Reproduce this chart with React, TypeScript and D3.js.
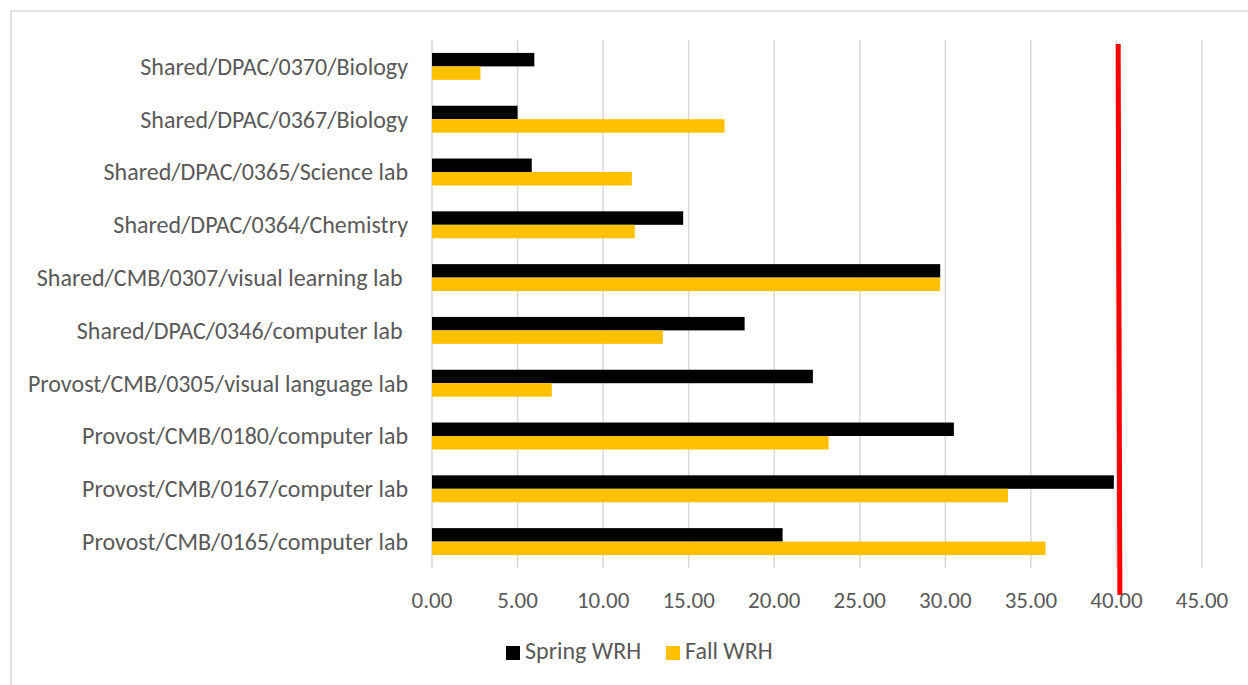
import React from "react";
import * as d3 from "d3";

const categories = [
  "Shared/DPAC/0370/Biology",
  "Shared/DPAC/0367/Biology",
  "Shared/DPAC/0365/Science lab",
  "Shared/DPAC/0364/Chemistry",
  "Shared/CMB/0307/visual learning lab ",
  "Shared/DPAC/0346/computer lab ",
  "Provost/CMB/0305/visual language lab",
  "Provost/CMB/0180/computer lab",
  "Provost/CMB/0167/computer lab",
  "Provost/CMB/0165/computer lab",
];
const springWRH = [5.98, 5.0, 5.83, 14.68, 29.7, 18.27, 22.26, 30.5, 39.85, 20.49];
const fallWRH = [2.83, 17.1, 11.68, 11.85, 29.7, 13.49, 7.0, 23.18, 33.66, 35.85];
const seriesNames = ["Spring WRH", "Fall WRH"];
const seriesColors = ["#000000", "#FFC000"];
const xTicks = [0, 5, 10, 15, 20, 25, 30, 35, 40, 45];
const thresholdValue = [40.1, 40.2];

export default function App() {
  const W = 1248, H = 685;
  const left = 432, right = 1202, top = 40, bottom = 568;
  const x = d3.scaleLinear().domain([0, 45]).range([left, right]);
  const y = d3.scaleBand<string>().domain(categories).range([top, bottom]).paddingInner(0.49).paddingOuter(0.245);
  const sub = d3.scaleBand<number>().domain([0, 1]).range([0, y.bandwidth()]);
  const font = "Carlito, Calibri, Lato, sans-serif";
  const txt = "#595959";
  const series = [springWRH, fallWRH];
  return (
    <svg width={W} height={H} style={{ position: "absolute", left: 0, top: 0, background: "#fff" }} fontFamily={font}>
      <rect x={0} y={0} width={W} height={H} fill="#fff" />
      <path d={`M11,${H} V11 H${W}`} fill="none" stroke="#D9D9D9" strokeWidth={1.5} />
      {xTicks.map((t) => (
        <line key={"g" + t} x1={x(t)} x2={x(t)} y1={top} y2={bottom} stroke="#D9D9D9" strokeWidth={1.5} />
      ))}
      {series.map((vals, si) =>
        vals.map((v, i) => (
          <rect
            key={si + "-" + i}
            x={x(0)}
            y={(y(categories[i]) as number) + (sub(si) as number)}
            width={x(v) - x(0)}
            height={sub.bandwidth()}
            fill={seriesColors[si]}
          />
        ))
      )}
      <line x1={x(thresholdValue[0])} x2={x(thresholdValue[1])} y1={44} y2={595} stroke="#FF0000" strokeWidth={5} />
      {categories.map((c) => (
        <text key={c} x={408} y={(y(c) as number) + y.bandwidth() / 2} dy="0.35em" textAnchor="end" fontSize={24} fill={txt} style={{ whiteSpace: "pre" }}>
          {c}
        </text>
      ))}
      {xTicks.map((t) => (
        <text key={"t" + t} x={x(t)} y={608} textAnchor="middle" fontSize={23} fill={txt}>
          {d3.format(".2f")(t)}
        </text>
      ))}
      {seriesNames.map((n, i) => {
        const lx = [506, 666][i];
        return (
          <g key={n}>
            <rect x={lx} y={646} width={14} height={14} fill={seriesColors[i]} />
            <text x={lx + 19} y={659} fontSize={24} fill={txt}>
              {n}
            </text>
          </g>
        );
      })}
    </svg>
  );
}
